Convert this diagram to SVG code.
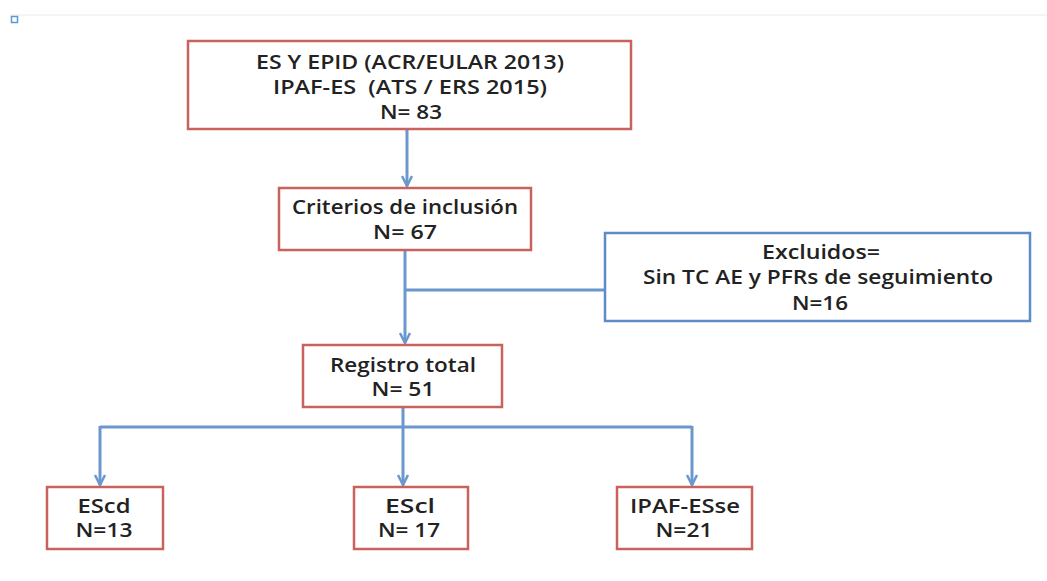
<svg xmlns="http://www.w3.org/2000/svg" width="1047" height="581" viewBox="0 0 1047 581">
<style>
.red{fill:#fff;stroke:#c9625d;stroke-width:2.5}
.blue{fill:#fff;stroke:#5d8cc6;stroke-width:2.5}
.t{font-family:"Open Sans","Liberation Sans",sans-serif;font-size:19px;font-weight:600;fill:#222;text-anchor:middle}
.c{fill:none;stroke:#6a98cc;stroke-width:3}
</style>
<defs>
<marker id="ah" markerWidth="12" markerHeight="12" viewBox="0 0 12 12" refX="11" refY="6" orient="auto" markerUnits="userSpaceOnUse">
<path d="M1,1 L11,6 L1,11" fill="none" stroke="#6a98cc" stroke-width="2.5"/>
</marker>
</defs>
<rect width="1047" height="581" fill="#fff"/>
<line x1="10" y1="15" x2="1047" y2="15" stroke="#ebebeb" stroke-width="1"/>
<rect x="11.5" y="16.5" width="6" height="6" fill="#fff" stroke="#5b9bd5" stroke-width="1.5"/>
<g id="connectors">
<path class="c" d="M407,129 V186" marker-end="url(#ah)"/>
<path class="c" d="M405,251 V343" marker-end="url(#ah)"/>
<path class="c" d="M405,290 H605"/>
<path class="c" d="M403,408 V427 M100,427 H692"/>
<path class="c" d="M100,426 V485" marker-end="url(#ah)"/>
<path class="c" d="M403,427 V485" marker-end="url(#ah)"/>
<path class="c" d="M692,426 V485" marker-end="url(#ah)"/>
</g>
<g id="n1">
<rect class="red" x="188" y="41" width="443" height="88"/>
<text class="t" x="410" y="69" textLength="308" lengthAdjust="spacingAndGlyphs">ES Y EPID (ACR/EULAR 2013)</text>
<text class="t" x="410" y="94" textLength="274" lengthAdjust="spacingAndGlyphs" xml:space="preserve">IPAF-ES  (ATS / ERS 2015)</text>
<text class="t" x="411" y="119" textLength="62" lengthAdjust="spacingAndGlyphs">N= 83</text>
</g>
<g id="n2">
<rect class="red" x="279" y="188" width="252" height="62"/>
<text class="t" x="405" y="214" textLength="226" lengthAdjust="spacingAndGlyphs">Criterios de inclusión</text>
<text class="t" x="405" y="239" textLength="64" lengthAdjust="spacingAndGlyphs">N= 67</text>
</g>
<g id="n3">
<rect class="blue" x="605" y="233" width="425" height="88"/>
<text class="t" x="821" y="259" textLength="118" lengthAdjust="spacingAndGlyphs">Excluidos=</text>
<text class="t" x="818" y="284" textLength="350" lengthAdjust="spacingAndGlyphs">Sin TC AE y PFRs de seguimiento</text>
<text class="t" x="820" y="310" textLength="56" lengthAdjust="spacingAndGlyphs">N=16</text>
</g>
<g id="n4">
<rect class="red" x="303" y="345" width="199" height="62"/>
<text class="t" x="403" y="372" textLength="146" lengthAdjust="spacingAndGlyphs">Registro total</text>
<text class="t" x="403" y="396" textLength="63" lengthAdjust="spacingAndGlyphs">N= 51</text>
</g>
<g id="n5">
<rect class="red" x="47" y="487" width="116" height="62"/>
<text class="t" x="104" y="513" textLength="53" lengthAdjust="spacingAndGlyphs">EScd</text>
<text class="t" x="104" y="537" textLength="57" lengthAdjust="spacingAndGlyphs">N=13</text>
</g>
<g id="n6">
<rect class="red" x="354" y="487" width="114" height="62"/>
<text class="t" x="410" y="513" textLength="50" lengthAdjust="spacingAndGlyphs">EScl</text>
<text class="t" x="409" y="537" textLength="62" lengthAdjust="spacingAndGlyphs">N= 17</text>
</g>
<g id="n7">
<rect class="red" x="617" y="487" width="135" height="62"/>
<text class="t" x="685" y="513" textLength="110" lengthAdjust="spacingAndGlyphs">IPAF-ESse</text>
<text class="t" x="684" y="537" textLength="57" lengthAdjust="spacingAndGlyphs">N=21</text>
</g>
</svg>
